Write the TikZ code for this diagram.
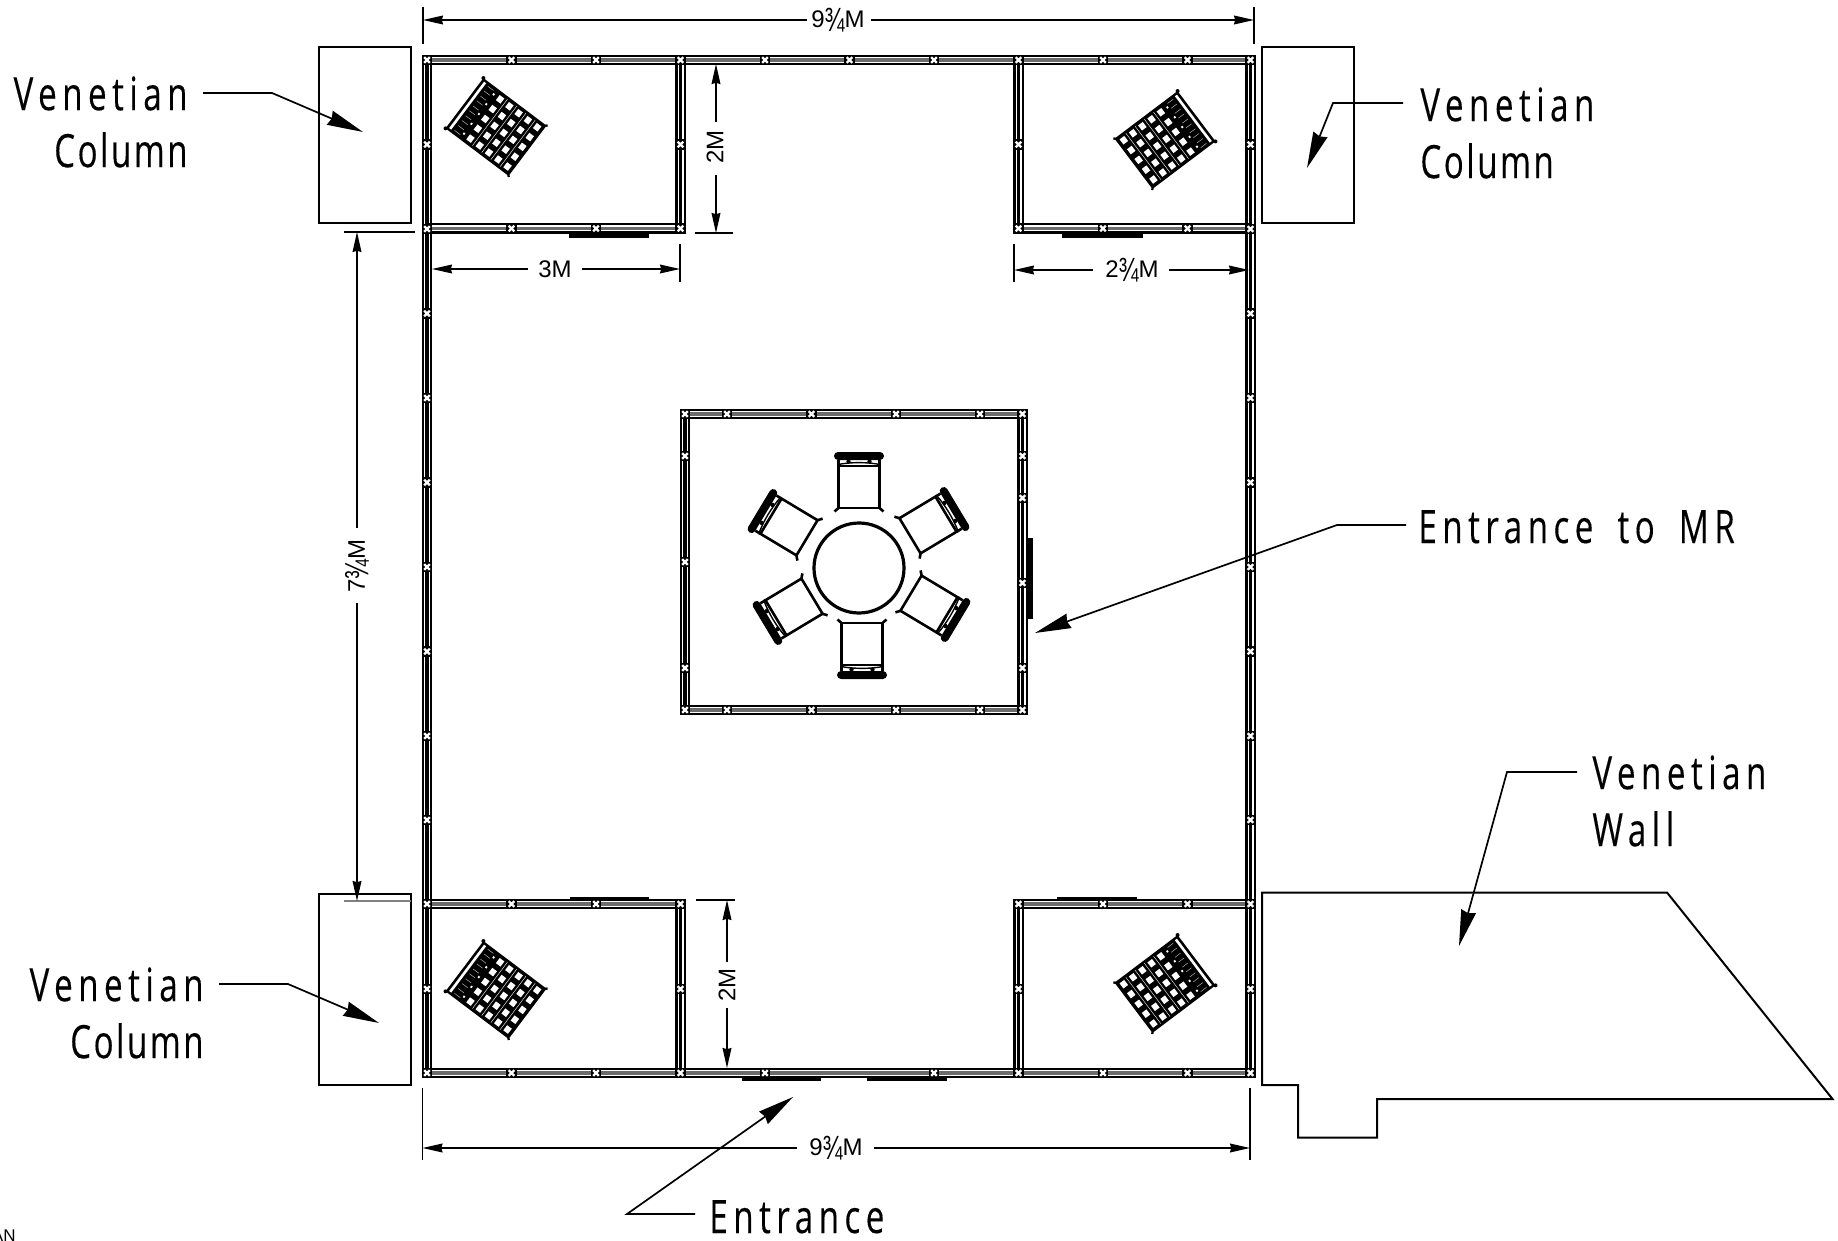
\documentclass[tikz,border=0pt]{standalone}
\usepackage{fontspec}
\usetikzlibrary{arrows.meta}
\newfontfamily\labf[FakeStretch=0.72,LetterSpace=12,FakeBold=0.2]{Open Sans}
\newfontfamily\labn[FakeStretch=0.72,LetterSpace=5.5,FakeBold=0.2]{Open Sans}
\newfontfamily\dimf{Liberation Sans}
\newcommand{\qfrac}{\raisebox{-1.7pt}{\scalebox{1}[1.4]{¾}}}
\tikzset{
  x=0.5pt,y=0.5pt,
  column/.style={draw=black,line width=1pt,fill=none,line join=miter},
  dimline/.style={line width=0.8pt,draw=black},
  extline/.style={line width=0.8pt,draw=black},
  dimhead/.style={-{Stealth[length=10pt,width=4.4pt,inset=0.6pt]}},
  leader/.style={line width=0.85pt,draw=black,line join=miter,-{Stealth[length=18pt,width=7.5pt,inset=1pt]}},
  labeltext/.style={font=\labf\fontsize{23}{28.5}\selectfont,inner sep=0pt},
  dimtext/.style={font=\dimf\fontsize{12}{14}\selectfont,inner sep=0pt},
  door/.style={fill=black,draw=none},
  chair/.pic={
    \draw[line width=1.3pt] (-20.5,-21) rectangle (20.5,21);
    \draw[line width=1.3pt] (-20.5,-21) -- (-24.5,-24.5) (20.5,-21) -- (24.5,-24.5);
    \draw[line width=1.3pt] (-20.5,21) -- (-20.5,27) (20.5,21) -- (20.5,27);
    \draw[line width=0.7pt] (-21,22.5) .. controls (-8,25) and (8,25) .. (21,22.5);
    \fill (-10.5,25.5) circle[radius=2.2] (10.5,25.5) circle[radius=2.2];
    \fill[rounded corners=2pt] (-25,27) rectangle (25,35);
  },
  bedpic/.pic={
    \fill (-39.5,-31.5) rectangle (39.5,31.5);
    \fill (-39.5,-31.5) circle[radius=2] (-39.5,31.5) circle[radius=2]
          (39.5,-31.5) circle[radius=1.6] (39.5,31.5) circle[radius=1.6];
    \draw[white,line width=1.3pt] (-35.5,-29) -- (-35.5,29);
    \foreach \cx in {33,21.4,9.8,-1.8,-13.4}
      \foreach \cy in {-24.6,-12.3,0,12.3,24.6}
        \fill[white] (\cx-2.9,\cy-3.2) rectangle (\cx+2.9,\cy+3.2);
    \foreach \cx in {27.2,15.6,4,-7.6}
      \draw[white,line width=.2pt] (\cx,-29) -- (\cx,29);
    \foreach \cy in {-24.6,-12.3,0,12.3,24.6}{
      \fill[white] (-22.4,\cy-1) rectangle (-20.6,\cy+1);
      \draw[gray!60,line width=.25pt] (-31,\cy-3) -- (-24,\cy-3) (-31,\cy+3) -- (-24,\cy+3);
    }
  }
}
% wall segment with a dark outer pair and a core line
\newcommand{\wallseg}[5][black]{%
  \draw[line width=5.1pt,black,line cap=butt] (#2,-#3) -- (#4,-#5);
  \draw[line width=3pt,white,line cap=butt] (#2,-#3) -- (#4,-#5);
  \draw[line width=1.7pt,#1,line cap=butt] (#2,-#3) -- (#4,-#5);
}
% joint pin
\newcommand{\pinmark}[2]{%
  \fill[black] (#1-5.3,-#2-5.3) rectangle (#1+5.3,-#2+5.3);
  \draw[white,line width=1.1pt] (#1-2.8,-#2-2.8) -- (#1+2.8,-#2+2.8) (#1-2.8,-#2+2.8) -- (#1+2.8,-#2-2.8);
}
\begin{document}
\begin{tikzpicture}
\useasboundingbox (0,-1241) rectangle (1838,0);
\fill[white] (0,-1241) rectangle (1838,0);

% ---- outer walls
\wallseg[gray!85!black]{427}{60}{1250.5}{60}
\wallseg{427}{55.5}{427}{1078}
\wallseg{1250.5}{55.5}{1250.5}{1078}
\wallseg[gray!85!black]{427}{1073}{1250.5}{1073}
% ---- corner rooms
\wallseg{680.5}{60}{680.5}{233}
\wallseg[gray!85!black]{427}{228.5}{685}{228.5}
\wallseg{1018.5}{60}{1018.5}{233}
\wallseg[gray!85!black]{1014}{228.5}{1250.5}{228.5}
\wallseg[gray!85!black]{427}{904}{685}{904}
\wallseg{680.5}{899.5}{680.5}{1073}
\wallseg[gray!85!black]{1014}{904}{1250.5}{904}
\wallseg{1018.5}{899.5}{1018.5}{1073}
% ---- central room
\wallseg[gray!85!black]{680.5}{414}{1027.5}{414}
\wallseg[gray!85!black]{680.5}{710}{1027.5}{710}
\wallseg{685}{409.5}{685}{714.5}
\wallseg{1022.5}{409.5}{1022.5}{714.5}
\draw[line width=1.2pt] (680,452) -- (680,672) (691,452) -- (691,672);
\draw[line width=1.2pt] (1017,452) -- (1017,586) (1028,452) -- (1028,586);

% ---- pins
\foreach \px in {427,511.5,596,680.5,765,849.5,934,1018.5,1103,1187.5,1250.5}{
  \pinmark{\px}{60}
}
\foreach \px in {427,511.5,596,680.5,765,934,1018.5,1103,1187.5,1250.5}{
  \pinmark{\px}{1073}
}
\foreach \py in {144.5,229,313.5,398,482.5,567,651.5,736,820,904,989}{
  \pinmark{427}{\py}
  \pinmark{1250.5}{\py}
}
\foreach \px in {511.5,596}{\pinmark{\px}{228.5}\pinmark{\px}{904}}
\foreach \px in {1103,1187.5}{\pinmark{\px}{228.5}\pinmark{\px}{904}}
\foreach \px in {680.5,1018.5}{
  \foreach \py in {144.5,228.5,904,989}{\pinmark{\px}{\py}}
}
\foreach \px in {685,727,811.5,896,980,1022.5}{\pinmark{\px}{414}\pinmark{\px}{710}}
\foreach \py in {456,562,668}{\pinmark{685}{\py}}
\foreach \py in {456,498,583,668}{\pinmark{1022.5}{\py}}

% ---- doors
\fill[door] (569,-233) rectangle (649,-238);
\fill[door] (1062,-233) rectangle (1143,-238);
\fill[door] (570,-897) rectangle (649,-899.5);
\fill[door] (1057,-897) rectangle (1137,-899.5);
\fill[door] (742,-1078) rectangle (821,-1081);
\fill[door] (867,-1078) rectangle (947,-1081);
\fill[door] (1028,-538) rectangle (1033,-619);

% ---- furniture
\pic[rotate=-37] at (496,-127) {bedpic};
\pic[rotate=-143] at (1165,-140) {bedpic};
\pic[rotate=-37] at (496,-990) {bedpic};
\pic[rotate=-143] at (1165,-984) {bedpic};

\draw[line width=1.6pt] (859,-568) circle[radius=45];
\pic[rotate=0] at (859,-487) {chair};
\pic[rotate=-59] at (928,-525) {chair};
\pic[rotate=59] at (789,-527) {chair};
\pic[rotate=121] at (794,-607) {chair};
\pic[rotate=-121] at (929,-604) {chair};
\pic[rotate=180] at (862,-644) {chair};

% ---- columns and Venetian wall
\draw[column] (318.5,-47.5) rectangle (411,-223);
\draw[column] (1261.5,-47.5) rectangle (1354,-223);
\draw[column] (318.5,-894) rectangle (411,-1085);
\draw[column] (1262,-892.5) -- (1667,-892.5) -- (1832.5,-1099) -- (1377,-1099) -- (1377,-1137.5) -- (1298,-1137.5) -- (1298,-1085) -- (1262,-1085) -- cycle;

% ---- dimensions
\draw[extline] (423,-7) -- (423,-44);
\draw[extline] (1254,-7) -- (1254,-44);
\node[dimtext] (dTop) at (838,-20) {9\qfrac M};
\draw[dimline,dimhead] (807,-20) -- (423,-20);
\draw[dimline,dimhead] (871,-20) -- (1254,-20);

\draw[extline] (422.5,-1088) -- (422.5,-1160);
\draw[extline] (1250,-1088) -- (1250,-1160);
\node[dimtext] (dBot) at (836,-1148) {9\qfrac M};
\draw[dimline,dimhead] (797,-1148) -- (422.5,-1148);
\draw[dimline,dimhead] (874,-1148) -- (1250,-1148);

\draw[extline] (680,-244) -- (680,-282);
\node[dimtext] (dThree) at (555,-269) {3M};
\draw[dimline,dimhead] (528,-269) -- (432,-269);
\draw[dimline,dimhead] (582,-269) -- (680,-269);

\draw[extline] (1014,-244) -- (1014,-282);
\node[dimtext] (dTwoQ) at (1132,-270) {2\qfrac M};
\draw[dimline,dimhead] (1093,-270) -- (1014,-270);
\draw[dimline,dimhead] (1169,-270) -- (1249,-270);

\draw[extline] (695,-233) -- (733,-233);
\node[dimtext,rotate=90] (dTwoA) at (715,-147) {2M};
\draw[dimline,dimhead] (716,-122) -- (716,-64);
\draw[dimline,dimhead] (716,-175) -- (716,-233);

\draw[extline] (696,-900) -- (735,-900);
\node[dimtext,rotate=90] (dTwoB) at (727,-985) {2M};
\draw[dimline,dimhead] (727,-962) -- (727,-900);
\draw[dimline,dimhead] (727,-1008) -- (727,-1068);

\draw[extline] (344,-232) -- (415,-232);
\draw[extline,gray] (344,-901) -- (411,-901);
\node[dimtext,rotate=90] (dSeven) at (357,-566) {7\qfrac M};
\draw[dimline,dimhead] (357,-528) -- (357,-232);
\draw[dimline,dimhead] (357,-603) -- (357,-901);

% ---- labels and leaders
\node[labeltext,align=right,anchor=north east] (lTL) at (188,-76) {Venetian\\{\labn Column}};
\coordinate (kTL) at (272,-93);
\draw[leader] (203,-93) -- (kTL) -- (363,-132);

\node[labeltext,align=left,anchor=north west] (lTR) at (1420,-87) {Venetian\\{\labn Column}};
\coordinate (kTR) at (1333,-103);
\draw[leader] (1403,-103) -- (kTR) -- (1307,-168);

\node[labeltext,align=right,anchor=north east] (lBL) at (204,-967) {Venetian\\{\labn Column}};
\coordinate (kBL) at (288,-984);
\draw[leader] (219,-984) -- (kBL) -- (379,-1023);

\node[labeltext,anchor=base west] (lMR) at (1418,-543) {Entrance\hspace{5pt} to\hspace{5pt} MR};
\coordinate (kMR) at (1337,-525);
\draw[leader] (1406,-525) -- (kMR) -- (1035,-633);

\node[labeltext,align=left,anchor=north west] (lWall) at (1592,-755) {Venetian\\Wall};
\coordinate (kWall) at (1507,-772);
\draw[leader] (1577,-772) -- (kWall) -- (1459,-946);

\node[labeltext,anchor=base west] (lEnt) at (709,-1233) {Entrance};
\coordinate (kEnt) at (627,-1214);
\draw[leader] (695,-1214) -- (kEnt) -- (793,-1097);

\node[font=\dimf\fontsize{8.5}{10}\selectfont,inner sep=0pt,anchor=base east] (lAN) at (16,-1241) {AN};
\end{tikzpicture}
\end{document}
